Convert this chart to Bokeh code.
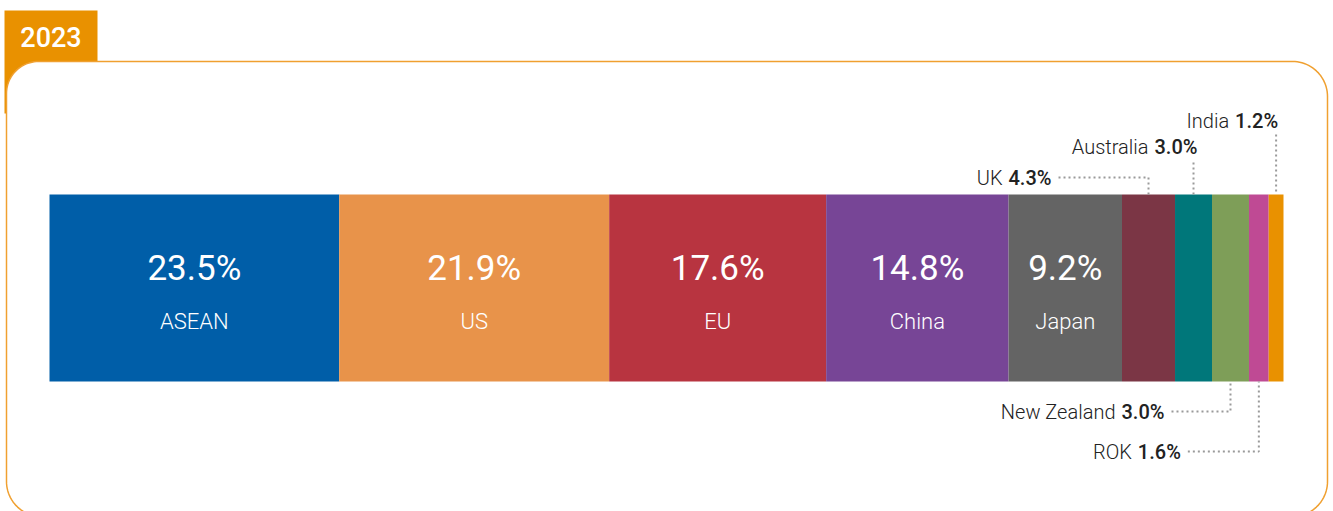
import numpy as np
from bokeh.plotting import figure
from bokeh.models import Range1d, ColumnDataSource
from bokeh.core.properties import value
from bokeh.embed import file_html
from bokeh.resources import INLINE

# ---------------- data ----------------
categories = ["ASEAN", "US", "EU", "China", "Japan", "UK", "Australia", "New Zealand", "ROK", "India"]
shares = [23.5, 21.9, 17.6, 14.8, 9.2, 4.3, 3.0, 3.0, 1.6, 1.2]
colors = ["#005EA8", "#E8934A", "#B83440", "#774596", "#646464",
          "#7B3645", "#00777A", "#7E9E58", "#BF4A94", "#E99100"]
year_label = "2023"
inside_count = 5  # first five segments carry labels inside the bar

# callout layout (style only): label y, text end offset from segment centre (px), leader kind
callout_layout = {
    "UK":          dict(y=177, end_off=-97, kind="above_h"),
    "Australia":   dict(y=146, end_off=4,   kind="above_v", top=162),
    "India":       dict(y=120, end_off=2,   kind="above_v", top=134),
    "New Zealand": dict(y=411, end_off=-66, kind="below_h"),
    "ROK":         dict(y=451, end_off=-78, kind="below_h"),
}

# ---------------- layout ----------------
W, H = 1333, 511
BAR_L, BAR_R = 49, 1283
BAR_TOP, BAR_BOT = 194, 381
ORANGE = "#E99100"
BORDER = "#F0A030"
DOT = "#9A9A9A"
TXT = "#222222"
FONT = "Roboto"
LIGHT = "Roboto Light"
MEDIUM = "Roboto Medium"

total = float(sum(shares))
scale = (BAR_R - BAR_L) / total  # px per percentage point

p = figure(width=W, height=H, x_range=Range1d(0, W), y_range=Range1d(H, 0),
           output_backend="svg", toolbar_location=None, min_border=0,
           background_fill_color="white", border_fill_color="white")
p.extra_x_ranges = {"pct": Range1d(-BAR_L / scale, (W - BAR_L) / scale)}
p.axis.visible = False
p.grid.visible = False
p.outline_line_color = None


def rrect(x0, y0, x1, y1, r_tl, r_tr, r_br, r_bl, n=24):
    xs, ys = [], []
    for (cx, cy, r, a0, a1) in [(x0 + r_tl, y0 + r_tl, r_tl, np.pi, 1.5 * np.pi),
                                (x1 - r_tr, y0 + r_tr, r_tr, 1.5 * np.pi, 2 * np.pi),
                                (x1 - r_br, y1 - r_br, r_br, 0, 0.5 * np.pi),
                                (x0 + r_bl, y1 - r_bl, r_bl, 0.5 * np.pi, np.pi)]:
        a = np.linspace(a0, a1, n)
        xs += list(cx + r * np.cos(a))
        ys += list(cy + r * np.sin(a))
    return xs, ys


# tab + frame
p.quad(left=4, right=97, top=10, bottom=113, fill_color=ORANGE, line_color=None)
fx, fy = rrect(6, 61, 1327, 516, 32, 35, 35, 35)
p.patch(fx, fy, fill_color="white", line_color=BORDER, line_width=1.5)
p.text(x=[50.5], y=[36], text=[year_label], text_align="center", text_baseline="middle",
       text_color="white", text_font=value(MEDIUM), text_font_size="27px")

# bar
right = np.cumsum(shares)
left = right - np.array(shares)
mid = (left + right) / 2
src = ColumnDataSource(dict(cat=categories, left=left, right=right, color=colors, mid=mid))
p.hbar(y=(BAR_TOP + BAR_BOT) / 2, height=BAR_BOT - BAR_TOP, left="left", right="right",
       fill_color="color", line_color=None, source=src, x_range_name="pct")

# inside labels
p.text(x=list(mid[:inside_count]), y=[268] * inside_count,
       text=[f"{v:.1f}%" for v in shares[:inside_count]],
       text_align="center", text_baseline="middle", text_color="white",
       text_font=value(FONT), text_font_size="35px", x_range_name="pct")
p.text(x=list(mid[:inside_count]), y=[321] * inside_count, text=categories[:inside_count],
       text_align="center", text_baseline="middle", text_color="white",
       text_font=value(LIGHT), text_font_size="22px", x_range_name="pct")

# callouts
VAL_W, GAP, LEAD_GAP = 44, 5, 7
for cat, val, c in zip(categories, shares, mid):
    if cat not in callout_layout:
        continue
    L = callout_layout[cat]
    end_x = c + L["end_off"] / scale
    y = L["y"]
    p.text(x=[end_x], y=[y], text=[f"{val:.1f}%"], text_align="right", text_baseline="middle",
           text_color=TXT, text_font=value(MEDIUM), text_font_size="20px",
           x_range_name="pct")
    p.text(x=[end_x - (VAL_W + GAP) / scale], y=[y], text=[cat], text_align="right",
           text_baseline="middle", text_color=TXT, text_font=value(LIGHT), text_font_size="20px",
           x_range_name="pct")
    if L["kind"] == "above_h":
        xs = [end_x + LEAD_GAP / scale, c, c]
        ys = [y, y, BAR_TOP]
    elif L["kind"] == "above_v":
        xs = [c, c]
        ys = [L["top"], BAR_TOP]
    else:
        xs = [end_x + LEAD_GAP / scale, c, c]
        ys = [y, y, BAR_BOT]
    p.line(xs, ys, line_color=DOT, line_width=2, line_dash="2 3", x_range_name="pct")

open("out.html", "w").write(file_html(p, INLINE))
